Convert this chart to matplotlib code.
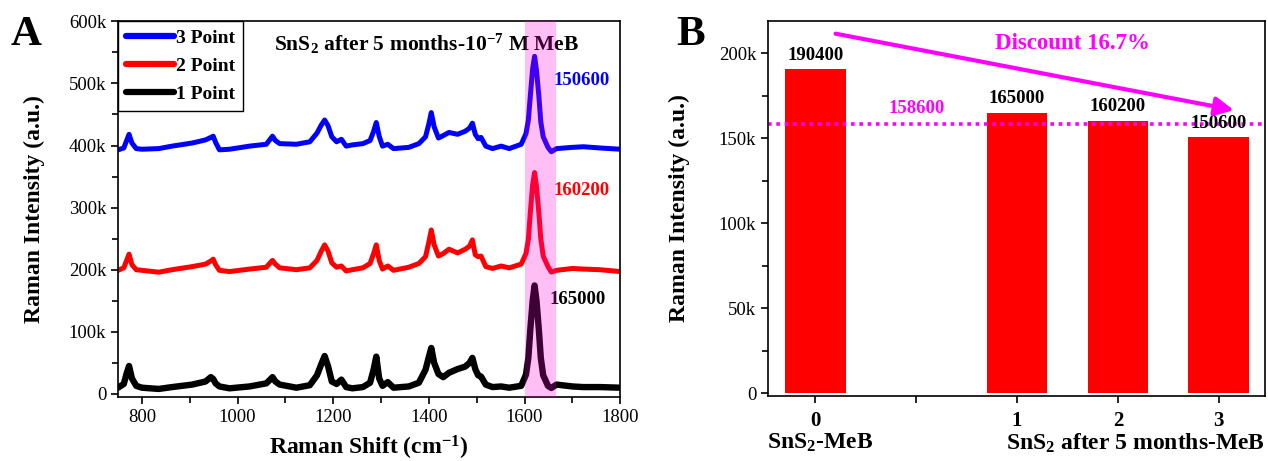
import matplotlib
matplotlib.use('Agg')
import matplotlib.pyplot as plt
from matplotlib.ticker import MultipleLocator, FuncFormatter
import matplotlib.transforms as mtransforms

plt.rcParams['font.family'] = 'Liberation Serif'
plt.rcParams['mathtext.fontset'] = 'custom'
plt.rcParams['mathtext.rm'] = 'Liberation Serif:bold'
plt.rcParams['mathtext.bf'] = 'Liberation Serif:bold'
plt.rcParams['mathtext.it'] = 'Liberation Serif:bold'
plt.rcParams['mathtext.default'] = 'bf'

# --- Panel A: spectra (intensity in thousands of counts) ---
shift = [750, 762, 768, 773, 779, 788, 800, 835, 863, 905, 933, 944, 949, 954, 962,
         983, 1025, 1060, 1068, 1073, 1079, 1088, 1123, 1151, 1166, 1175, 1182, 1189,
         1197, 1207, 1217, 1227, 1240, 1262, 1277, 1284, 1290, 1296, 1303, 1314, 1326,
         1358, 1379, 1393, 1400, 1405, 1411, 1420, 1430, 1442, 1460, 1476, 1485, 1491,
         1497, 1503, 1509, 1519, 1533, 1551, 1568, 1593, 1603, 1608, 1612, 1617, 1621,
         1625, 1630, 1634, 1639, 1649, 1656, 1667, 1700, 1723, 1758, 1800]

point3 = [393, 396, 408, 418, 404, 395, 394, 395, 399, 404, 409, 413, 415, 405, 393,
          394, 399, 402, 410, 415, 408, 403, 402, 406, 420, 433, 441, 432,
          414, 406, 410, 399, 401, 403, 408, 422, 437, 415, 399, 402, 395,
          397, 403, 414, 435, 453, 430, 412, 416, 421, 418, 423, 428, 436,
          418, 411, 413, 399, 395, 399, 395, 402, 419, 441, 479, 524, 543.6,
          521, 479, 438, 414, 397, 390, 395, 397, 398, 396, 394]

point2 = [199, 203, 215, 225, 208, 200, 199, 196, 200, 205, 209, 214, 217, 208, 199,
          197, 201, 204, 211, 215, 209, 203, 200, 203, 215, 230, 240, 230,
          211, 204, 206, 198, 200, 203, 210, 225, 240, 215, 201, 206, 199,
          204, 210, 221, 245, 264, 240, 222, 226, 233, 227, 233, 238, 248,
          224, 221, 222, 205, 202, 206, 203, 209, 226, 249, 291, 337, 356.4,
          334, 291, 250, 222, 205, 196.2, 199, 202, 201, 200, 197]

point1 = [10, 16, 33, 45, 25, 13, 10, 8, 11, 15, 20, 27, 24, 17, 12,
          9, 12, 17, 23, 27, 20, 15, 10, 14, 30, 48, 61, 45,
          20, 16, 23, 11, 9, 11, 18, 38, 60, 25, 13, 19, 10,
          12, 18, 39, 60, 74, 50, 32, 27, 34, 40, 44, 50, 58,
          40, 30, 28, 15, 11, 12, 10, 13, 31, 58, 103, 150, 174.6,
          150, 103, 58, 30, 13, 9.6, 15, 12, 11, 11, 10]

peak_labels = ['150600', '160200', '165000']

# --- Panel B: bar chart ---
bar_pos = [0, 2, 3, 4]
bar_vals = [190400, 165000, 160200, 150600]
tick_pos = [0, 1, 2, 3, 4]
tick_text = ['0', '', '1', '2', '3']

fig = plt.figure(figsize=(12.68, 4.61), dpi=100)
axA = fig.add_axes([0.0931, 0.1388, 0.396, 0.815])
axB = fig.add_axes([0.6057, 0.141, 0.392, 0.814])

kfmt = FuncFormatter(lambda v, p: '0' if v == 0 else f'{int(round(v))}k')

series = [(point3, 'blue', '3 Point'), (point2, 'red', '2 Point'), (point1, 'black', '1 Point')]
for ys, col, lab in series:
    axA.plot(shift, ys, color=col, lw=3.6 if col != 'black' else 4.6, label=lab,
             solid_joinstyle='round', solid_capstyle='round')

axA.axvspan(1600, 1665, color=(1, 0, 0.85), alpha=0.25, lw=0, zorder=5)

axA.set_xlim(750, 1800)
axA.set_ylim(-5, 600)
axA.xaxis.set_major_locator(MultipleLocator(200))
axA.xaxis.set_minor_locator(MultipleLocator(100))
axA.yaxis.set_major_locator(MultipleLocator(100))
axA.yaxis.set_minor_locator(MultipleLocator(50))
axA.yaxis.set_major_formatter(kfmt)

leg = axA.legend(loc='upper left', borderaxespad=0, fancybox=False, framealpha=1,
                 edgecolor='black', handlelength=2.5, handletextpad=0.1,
                 labelspacing=0.55, borderpad=0.4,
                 prop={'family': 'Liberation Serif', 'weight': 'bold', 'size': 14})
leg.get_frame().set_linewidth(1.0)
for h in leg.get_lines():
    h.set_linewidth(4.5)

axA.text(0.615, 0.94, r'SnS$_2$ after 5 months-10$^{-7}$ M MeB', transform=axA.transAxes,
         ha='center', va='center', fontsize=15.5, fontweight='bold')

label_pos = [(1720, 505), (1720, 328), (1710, 152)]
for (ys, col, lab), txt, (lx, ly) in zip(series, peak_labels, label_pos):
    axA.text(lx, ly, txt, color=col, ha='center', va='center', fontsize=13.5, fontweight='bold')

axA.set_xlabel('Raman Shift (cm$^{-1}$)', fontsize=17, fontweight='bold', labelpad=6)
axA.set_ylabel('Raman Intensity (a.u.)', fontsize=17, fontweight='bold')
axA.yaxis.set_label_coords(-0.145, 0.5)

# bars
axB.bar(bar_pos, bar_vals, width=0.6, color='red')
for x, v in zip(bar_pos, bar_vals):
    axB.annotate(str(v), (x, v), xytext=(0, 4), textcoords='offset points',
                 ha='center', va='bottom', fontsize=13.5, fontweight='bold')

mean_after = sum(bar_vals[1:]) / len(bar_vals[1:])
discount = (bar_vals[0] - mean_after) / bar_vals[0] * 100
axB.axhline(mean_after, color='magenta', lw=2.6, ls=(0, (1, 1.3)))
axB.text(1, mean_after + 4000, f'{mean_after:.0f}', color='magenta', ha='center', va='bottom',
         fontsize=13.5, fontweight='bold')
axB.annotate('', xy=(4.15, 166500), xytext=(0.2, 211400),
             arrowprops=dict(arrowstyle='-|>', color='magenta', lw=3, mutation_scale=28,
                             shrinkA=0, shrinkB=0))
axB.text(2.55, 205500, f'Discount {discount:.1f}%', color='magenta', ha='center', va='center',
         fontsize=16.5, fontweight='bold')

axB.set_xlim(-0.47, 4.46)
axB.set_ylim(-1500, 219000)
axB.set_xticks(tick_pos)
axB.set_xticklabels(tick_text, fontsize=14, fontweight='bold')
axB.yaxis.set_major_locator(MultipleLocator(50000))
axB.yaxis.set_minor_locator(MultipleLocator(25000))
axB.yaxis.set_major_formatter(FuncFormatter(lambda v, p: '0' if v == 0 else f'{int(v / 1000)}k'))
axB.set_ylabel('Raman Intensity (a.u.)', fontsize=17, fontweight='bold')
axB.yaxis.set_label_coords(-0.157, 0.5)

trans = mtransforms.blended_transform_factory(axB.transData, axB.transAxes)
axB.text(0.05, -0.095, r'SnS$_2$-MeB', transform=trans, ha='center', va='top',
         fontsize=17, fontweight='bold')
axB.text(1.0, -0.095, r'SnS$_2$ after 5 months-MeB', transform=axB.transAxes, ha='right',
         va='top', fontsize=17, fontweight='bold')

for ax in (axA, axB):
    for s in ax.spines.values():
        s.set_linewidth(1.2)
    ax.tick_params(which='major', direction='out', length=5, width=1.2, labelsize=13.5)
    ax.tick_params(which='minor', direction='out', length=4, width=1.2)
axB.tick_params(axis='x', which='major', labelsize=15, pad=6)
axB.tick_params(axis='x', which='minor', length=0)

fig.text(0.0205, 0.924, 'A', fontsize=31, fontweight='bold', ha='center', va='center')
fig.text(0.5445, 0.924, 'B', fontsize=31, fontweight='bold', ha='center', va='center')

fig.savefig('out.png', dpi=100)
